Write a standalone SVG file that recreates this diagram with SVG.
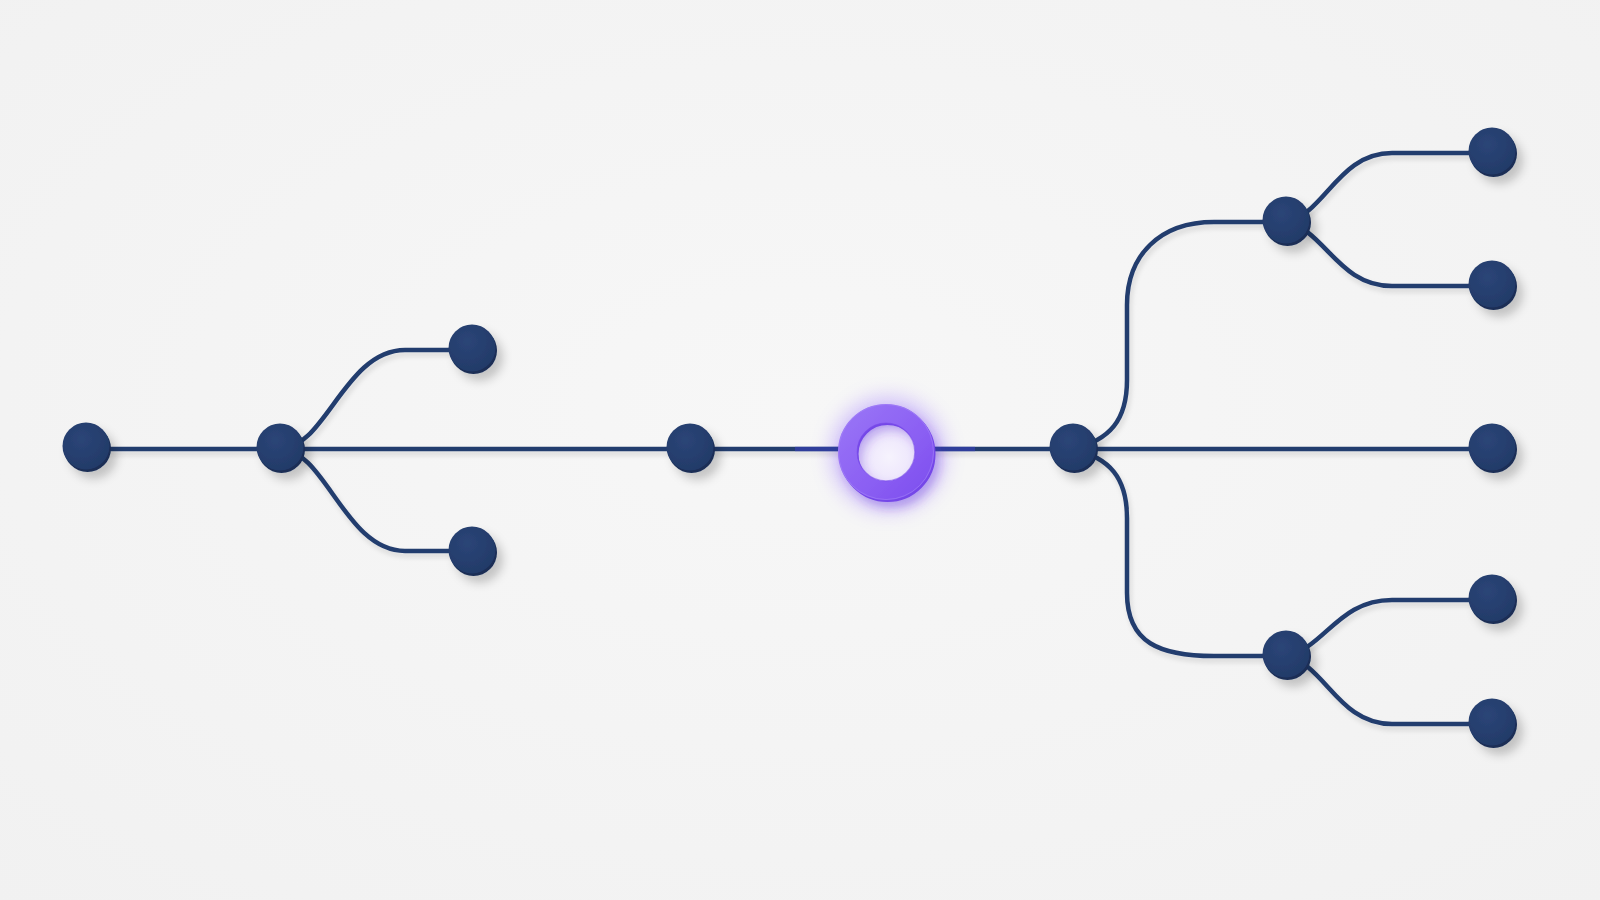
<svg xmlns="http://www.w3.org/2000/svg" width="1600" height="900" viewBox="0 0 1600 900">
  <defs>
    <radialGradient id="bg" cx="50%" cy="45%" r="75%">
      <stop offset="0" stop-color="#f7f7f7"/>
      <stop offset="1" stop-color="#f1f1f1"/>
    </radialGradient>
    <filter id="nodeShadow" x="-60%" y="-60%" width="240%" height="240%">
      <feDropShadow dx="6" dy="7" stdDeviation="5" flood-color="#000" flood-opacity="0.2"/>
    </filter>
    <filter id="wireShadow" x="-5%" y="-20%" width="110%" height="140%">
      <feDropShadow dx="2" dy="4" stdDeviation="2.5" flood-color="#000" flood-opacity="0.12"/>
    </filter>
    <filter id="glow" x="-100%" y="-100%" width="300%" height="300%">
      <feGaussianBlur stdDeviation="10"/>
    </filter>
    <filter id="ringShadow" x="-60%" y="-60%" width="240%" height="240%">
      <feDropShadow dx="4" dy="6" stdDeviation="5" flood-color="#5a2fd0" flood-opacity="0.3"/>
    </filter>
    <radialGradient id="nodeFace" cx="40%" cy="35%" r="70%">
      <stop offset="0" stop-color="#2b4577"/>
      <stop offset="1" stop-color="#223a68"/>
    </radialGradient>
    <linearGradient id="ringFace" x1="0" y1="0" x2="1" y2="1">
      <stop offset="0" stop-color="#9873f6"/>
      <stop offset="0.6" stop-color="#8b5ff3"/>
      <stop offset="1" stop-color="#7f50ef"/>
    </linearGradient>
    <radialGradient id="hole" cx="55%" cy="58%" r="60%">
      <stop offset="0" stop-color="#f6f3fd"/>
      <stop offset="0.8" stop-color="#ece4fc"/>
      <stop offset="1" stop-color="#c9b4f8"/>
    </radialGradient>
    <g id="node">
      <circle cx="1.5" cy="2.5" r="23.5" fill="#1a2d55"/>
      <circle cx="0" cy="0" r="23.5" fill="url(#nodeFace)"/>
    </g>
  </defs>
  <style>
    .wire { fill: none; stroke: #243d6e; stroke-width: 4.5; stroke-linecap: round; }
    .nd { filter: url(#nodeShadow); }
  </style>

  <rect width="1600" height="900" fill="url(#bg)"/>

  <!-- glow around ring -->
  <circle cx="888" cy="454" r="44" fill="none" stroke="#8a5cff" stroke-width="26" opacity="0.35" filter="url(#glow)"/>

  <g id="connectors" filter="url(#wireShadow)">
    <path class="wire" d="M86,449 L845,449"/>
    <path class="wire" d="M925,449 L1492,449"/>
    <path class="wire" d="M280,449 C325,449 345,350 405,350 L472,350"/>
    <path class="wire" d="M280,449 C325,449 345,551 405,551 L472,551"/>
    <path class="wire" d="M1073,449 C1110,440 1127,420 1127,380 L1127,305 C1127,255 1160,222 1214,222 L1286,222"/>
    <path class="wire" d="M1073,449 C1110,458 1127,478 1127,518 L1127,593 C1127,643 1160,656 1214,656 L1286,656"/>
    <path class="wire" d="M1286,222 C1325,214 1338,153 1392,153 L1492,153"/>
    <path class="wire" d="M1286,222 C1325,230 1338,286 1392,286 L1492,286"/>
    <path class="wire" d="M1286,656 C1325,648 1338,600 1392,600 L1492,600"/>
    <path class="wire" d="M1286,656 C1325,664 1338,724 1392,724 L1492,724"/>
  </g>
  <!-- brighter wire segments lit by the ring glow -->
  <path d="M795,449 L842,449 M930,449 L975,449" stroke="#3b3fc8" stroke-width="4.5" opacity="0.5" fill="none"/>

  <g id="node-a" class="nd"><use href="#node" x="86" y="446"/></g>
  <g id="node-b" class="nd"><use href="#node" x="280" y="447"/></g>
  <g id="node-c" class="nd"><use href="#node" x="472" y="348"/></g>
  <g id="node-d" class="nd"><use href="#node" x="472" y="550"/></g>
  <g id="node-e" class="nd"><use href="#node" x="690" y="447"/></g>

  <g id="ring">
    <circle cx="886" cy="452" r="30" fill="url(#hole)"/>
    <g filter="url(#ringShadow)">
      <circle cx="887.5" cy="454" r="38.5" fill="none" stroke="#7446e8" stroke-width="19"/>
      <circle cx="886" cy="452" r="38.5" fill="none" stroke="url(#ringFace)" stroke-width="19"/>
    </g>
    <circle cx="886" cy="452" r="28.8" fill="none" stroke="#7a4cea" stroke-width="1.2" opacity="0.6"/>
    <circle cx="886" cy="452" r="47.5" fill="none" stroke="#a789f8" stroke-width="1" opacity="0.5"/>
  </g>

  <g id="node-f" class="nd"><use href="#node" x="1073" y="447"/></g>
  <g id="node-g" class="nd"><use href="#node" x="1286" y="220"/></g>
  <g id="node-j" class="nd"><use href="#node" x="1286" y="654"/></g>
  <g id="node-h1" class="nd"><use href="#node" x="1492" y="151"/></g>
  <g id="node-h2" class="nd"><use href="#node" x="1492" y="284"/></g>
  <g id="node-m" class="nd"><use href="#node" x="1492" y="447"/></g>
  <g id="node-k1" class="nd"><use href="#node" x="1492" y="598"/></g>
  <g id="node-k2" class="nd"><use href="#node" x="1492" y="722"/></g>
</svg>
